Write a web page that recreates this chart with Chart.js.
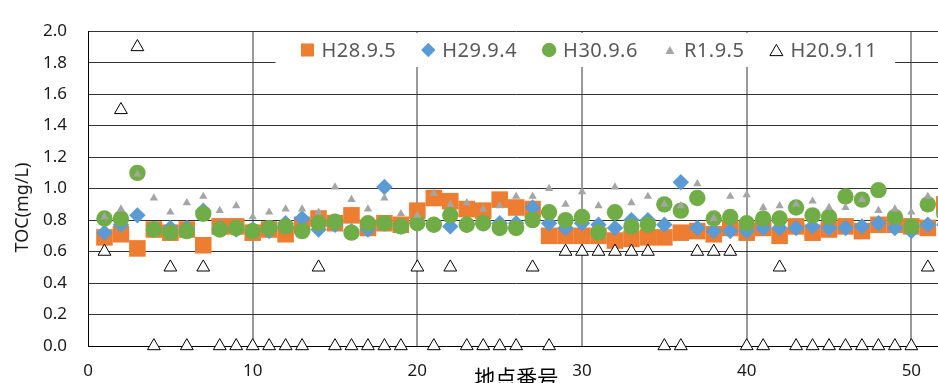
<!DOCTYPE html>
<html>
<head>
<meta charset="utf-8">
<title>TOC 地点別</title>
<script src="https://cdn.jsdelivr.net/npm/chart.js@4.4.1/dist/chart.umd.min.js"></script>
<style>
  html, body { margin: 0; padding: 0; background: #ffffff; overflow: hidden; }
  #wrap { width: 956px; height: 400px; }
  canvas { display: block; }
</style>
</head>
<body>
<div id="wrap"><canvas id="toc" width="956" height="400"></canvas></div>
<script>
// Site numbers (x) and TOC readings in mg/L for each survey date
const sites = [1, 2, 3, 4, 5, 6, 7, 8, 9, 10,
               11, 12, 13, 14, 15, 16, 17, 18, 19, 20,
               21, 22, 23, 24, 25, 26, 27, 28, 29, 30,
               31, 32, 33, 34, 35, 36, 37, 38, 39, 40,
               41, 42, 43, 44, 45, 46, 47, 48, 49, 50,
               51, 52];

const tocH28 = [0.69, 0.71, 0.62, 0.74, 0.72, 0.74, 0.64, 0.76, 0.76, 0.72,
                0.74, 0.71, 0.77, 0.81, 0.78, 0.83, 0.75, 0.78, 0.77, 0.86,
                0.94, 0.92, 0.87, 0.86, 0.93, 0.88, 0.87, 0.70, 0.70, 0.70,
                0.70, 0.67, 0.68, 0.69, 0.69, 0.72, 0.73, 0.71, 0.75, 0.72,
                0.75, 0.70, 0.76, 0.72, 0.74, 0.76, 0.73, 0.77, 0.77, 0.76,
                0.75, 0.90];

const tocH29 = [0.72, 0.77, 0.83, 0.74, 0.75, 0.75, 0.86, 0.75, 0.74, 0.74,
                0.73, 0.78, 0.81, 0.74, 0.77, 0.73, 0.74, 1.01, 0.76, 0.78,
                0.77, 0.76, 0.77, 0.78, 0.78, 0.78, 0.88, 0.78, 0.75, 0.78,
                0.77, 0.75, 0.80, 0.80, 0.77, 1.04, 0.75, 0.73, 0.73, 0.73,
                0.75, 0.75, 0.75, 0.76, 0.75, 0.75, 0.76, 0.78, 0.75, 0.73,
                0.77, 0.77];

const tocH30 = [0.81, 0.81, 1.10, 0.74, 0.72, 0.73, 0.84, 0.74, 0.75, 0.73,
                0.75, 0.76, 0.73, 0.78, 0.79, 0.72, 0.78, 0.78, 0.76, 0.78,
                0.77, 0.83, 0.77, 0.78, 0.75, 0.75, 0.80, 0.85, 0.80, 0.82,
                0.72, 0.85, 0.76, 0.77, 0.90, 0.86, 0.94, 0.81, 0.82, 0.78,
                0.81, 0.81, 0.88, 0.83, 0.82, 0.95, 0.93, 0.99, 0.82, 0.76,
                0.90, 0.84];

const tocR1 = [0.82, 0.87, 1.09, 0.94, 0.85, 0.91, 0.95, 0.86, 0.89, 0.82,
               0.85, 0.87, 0.87, 0.85, 1.01, 0.93, 0.87, 0.94, 0.84, 0.83,
               0.97, 0.90, 0.91, 0.87, 0.89, 0.95, 0.95, 1.00, 0.90, 0.98,
               0.89, 1.01, 0.91, 0.95, 0.90, 0.89, 1.03, 0.81, 0.95, 0.96,
               0.88, 0.89, 0.90, 0.92, 0.88, 0.88, 0.93, 0.86, 0.87, 0.85,
               0.95, null];

const tocH20 = [0.6, 1.5, 1.9, 0.0, 0.5, 0.0, 0.5, 0.0, 0.0, 0.0,
                0.0, 0.0, 0.0, 0.5, 0.0, 0.0, 0.0, 0.0, 0.0, 0.5,
                0.0, 0.5, 0.0, 0.0, 0.0, 0.0, 0.5, 0.0, 0.6, 0.6,
                0.6, 0.6, 0.6, 0.6, 0.0, 0.0, 0.6, 0.6, 0.6, 0.0,
                0.0, 0.5, 0.0, 0.0, 0.0, 0.0, 0.0, 0.0, 0.0, 0.0,
                0.5, null];

const seriesLabels = ['H28.9.5', 'H29.9.4', 'H30.9.6', 'R1.9.5', 'H20.9.11'];

const xTicksStep = 10;
const yTicksStep = 0.2;

function toPoints(values) {
  return sites.map((s, i) => ({ x: s, y: values[i] }));
}

const FONT = '"Noto Sans", "DejaVu Sans", sans-serif';
const CJK = '"Noto Sans CJK JP", "Noto Sans", sans-serif';

// Legend drawn inside the plot on a white panel
const insetLegend = {
  id: 'insetLegend',
  beforeDatasetsDraw(chart, args, opts) {
    const ctx = chart.ctx;
    ctx.save();
    ctx.font = opts.fontSize + 'px ' + FONT;
    if ('letterSpacing' in ctx) ctx.letterSpacing = opts.letterSpacing;
    let x = opts.left;
    const items = chart.data.datasets.map((ds, i) => {
      const w = ctx.measureText(ds.label).width;
      const it = { ds, mx: x + opts.markerBox / 2, tx: x + opts.markerBox + opts.textGap, r: opts.markerRadius[i] };
      x = it.tx + w + opts.itemGap;
      return it;
    });
    const boxLeft = opts.left - opts.padLeft;
    const boxRight = x - opts.itemGap + opts.padRight;
    ctx.fillStyle = '#ffffff';
    ctx.fillRect(boxLeft, opts.top, boxRight - boxLeft, opts.height);
    const cy = opts.top + opts.height / 2;
    items.forEach(it => {
      const ds = it.ds;
      ctx.fillStyle = ds.pointBackgroundColor;
      ctx.strokeStyle = ds.pointBorderColor;
      ctx.lineWidth = ds.pointBorderWidth;
      Chart.helpers.drawPoint(ctx, {
        pointStyle: ds.pointStyle, radius: it.r, rotation: 0, borderWidth: ds.pointBorderWidth
      }, it.mx, cy + (ds.pointStyle === 'triangle' ? it.r * 0.25 : 0));
      ctx.fillStyle = opts.color;
      ctx.textBaseline = 'alphabetic';
      ctx.textAlign = 'left';
      ctx.fillText(ds.label, it.tx, opts.baseline);
    });
    ctx.restore();
  }
};

// Rotated y-axis title
const yTitle = {
  id: 'yTitle',
  afterDraw(chart, args, opts) {
    const ctx = chart.ctx;
    ctx.save();
    ctx.translate(opts.x, opts.y);
    ctx.rotate(-Math.PI / 2);
    ctx.font = opts.fontSize + 'px ' + FONT;
    ctx.fillStyle = opts.color;
    ctx.textAlign = 'center';
    ctx.textBaseline = 'alphabetic';
    ctx.fillText(opts.text, 0, 0);
    ctx.restore();
  }
};

const datasets = [
  { label: seriesLabels[0], data: toPoints(tocH28), pointStyle: 'rect', pointRadius: 11.7,
    pointBackgroundColor: '#ED7D31', pointBorderColor: '#ED7D31', pointBorderWidth: 0, order: 5 },
  { label: seriesLabels[1], data: toPoints(tocH29), pointStyle: 'rectRot', pointRadius: 8.2,
    pointBackgroundColor: '#5B9BD5', pointBorderColor: '#5B9BD5', pointBorderWidth: 0, order: 4 },
  { label: seriesLabels[2], data: toPoints(tocH30), pointStyle: 'circle', pointRadius: 8.2,
    pointBackgroundColor: '#70AD47', pointBorderColor: '#70AD47', pointBorderWidth: 0, order: 3 },
  { label: seriesLabels[3], data: toPoints(tocR1), pointStyle: 'triangle', pointRadius: 4.8,
    pointBackgroundColor: '#A5A5A5', pointBorderColor: '#A5A5A5', pointBorderWidth: 0, order: 2 },
  { label: seriesLabels[4], data: toPoints(tocH20), pointStyle: 'triangle', pointRadius: 7.4,
    pointBackgroundColor: '#FFFFFF', pointBorderColor: '#000000', pointBorderWidth: 1, order: 1 }
];
datasets.forEach(ds => { ds.showLine = false; ds.clip = false; });

new Chart(document.getElementById('toc'), {
  type: 'scatter',
  data: { datasets },
  plugins: [insetLegend, yTitle],
  options: {
    responsive: false,
    animation: false,
    devicePixelRatio: 1,
    events: [],
    layout: { padding: { top: 22, right: 5, bottom: 0, left: 0 } },
    plugins: {
      legend: { display: false },
      tooltip: { enabled: false },
      insetLegend: {
        left: 300.5, top: 33, height: 34, baseline: 57, markerBox: 14, textGap: 7, itemGap: 25,
        padLeft: 25, padRight: 18, fontSize: 20, letterSpacing: '0.5px', color: '#595959',
        markerRadius: [9.2, 7.2, 7.2, 5.2, 7.5]
      },
      yTitle: { text: 'TOC(mg/L)', x: 28, y: 207.5, fontSize: 18, color: '#1a1a1a' }
    },
    scales: {
      x: {
        type: 'linear', min: 0, max: 52,
        ticks: { stepSize: xTicksStep, includeBounds: false, padding: 15, maxRotation: 0,
                 color: '#1a1a1a', font: { family: FONT, size: 17 } },
        grid: { drawTicks: false, lineWidth: 2,
                color: c => (c.tick && c.tick.value === 0) ? 'rgba(0,0,0,0)' : '#9a9a9a' },
        border: { color: '#000000', width: 1 },
        title: { display: true, text: '地点番号', color: '#000000',
                 font: { family: CJK, size: 21 }, padding: { top: 0, bottom: 10 } },
        afterFit(scale) { scale.height = 54; }
      },
      y: {
        min: 0, max: 2,
        ticks: { stepSize: yTicksStep, padding: 21, color: '#1a1a1a',
                 font: { family: FONT, size: 17 }, callback: v => Number(v).toFixed(1) },
        grid: { drawTicks: false, color: '#333333', lineWidth: 1 },
        border: { color: '#000000', width: 1 },
        afterFit(scale) { scale.width = 88; }
      }
    }
  }
});
</script>
</body>
</html>
